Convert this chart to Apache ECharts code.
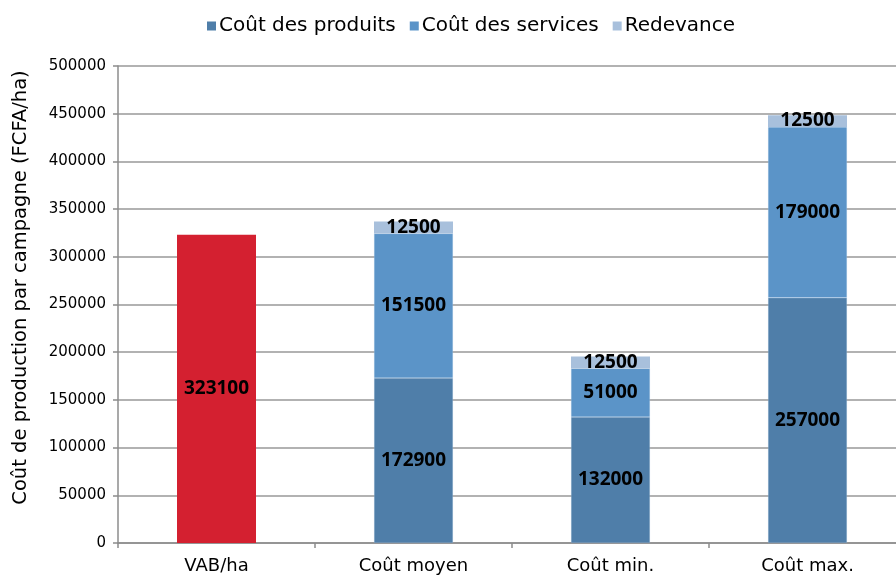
<!DOCTYPE html>
<html>
<head>
<meta charset="utf-8">
<script src="https://cdn.jsdelivr.net/npm/echarts@6/dist/echarts.min.js"></script>
<style>
  html, body { margin: 0; padding: 0; background: #fff; }
  #chart { width: 896px; height: 576px; }
</style>
</head>
<body>
<div id="chart"></div>
<script>
var categories = ["VAB/ha", "Coût moyen", "Coût min.", "Coût max."];
var vab = [323100, "-", "-", "-"];
var coutProduits = ["-", 172900, 132000, 257000];
var coutServices = ["-", 151500, 51000, 179000];
var redevance = ["-", 12500, 12500, 12500];

var font = "DejaVu Sans";
var labelStyle = {
  show: true,
  position: "inside",
  color: "#000",
  fontWeight: "bold",
  fontSize: 19,
  fontFamily: "Open Sans"
};
// fine light seam between stacked segments
var seam = { borderColor: "rgba(190,210,235,0.45)", borderWidth: 0.5 };

var chart = echarts.init(document.getElementById("chart"));
chart.setOption({
  backgroundColor: "#fff",
  animation: false,
  legend: {
    data: ["Coût des produits", "Coût des services", "Redevance"],
    top: 11,
    left: 202,
    itemWidth: 9,
    itemHeight: 9,
    itemGap: 14,
    icon: "rect",
    itemStyle: { borderWidth: 0 },
    textStyle: { fontSize: 20, fontFamily: font, color: "#000", padding: [0, 0, 0, -2] }
  },
  grid: { left: 118, top: 66, width: 788, height: 477, outerBoundsMode: "none", containLabel: false },
  xAxis: {
    type: "category",
    data: categories,
    axisLine: { lineStyle: { color: "#8c8c8c", width: 1.5 } },
    axisTick: { show: true, length: 5, lineStyle: { color: "#8c8c8c", width: 1.5 } },
    axisLabel: { fontSize: 18, fontFamily: font, color: "#000", margin: 14 }
  },
  yAxis: {
    type: "value",
    min: 0,
    max: 500000,
    interval: 50000,
    name: "Coût de production par campagne (FCFA/ha)",
    nameLocation: "middle",
    nameGap: 87,
    nameTextStyle: { fontSize: 19.5, fontFamily: font, color: "#000", padding: [0, 0, 0, 34] },
    axisLine: { show: true, lineStyle: { color: "#8c8c8c", width: 1.5 } },
    axisTick: { show: true, length: 5, lineStyle: { color: "#8c8c8c", width: 1.5 } },
    axisLabel: {
      fontSize: 15,
      fontFamily: font,
      color: "#000",
      margin: 12,
      formatter: function (v) { return String(v); }
    },
    splitLine: { lineStyle: { color: "#999", width: 1.5 } }
  },
  series: [
    {
      name: "VAB",
      type: "bar",
      stack: "total",
      barWidth: 79,
      data: vab,
      itemStyle: { color: "#d42030" },
      label: labelStyle
    },
    {
      name: "Coût des produits",
      type: "bar",
      stack: "total",
      barWidth: 79,
      data: coutProduits,
      itemStyle: Object.assign({ color: "#4f7ea9" }, seam),
      label: labelStyle
    },
    {
      name: "Coût des services",
      type: "bar",
      stack: "total",
      barWidth: 79,
      data: coutServices,
      itemStyle: Object.assign({ color: "#5b94c8" }, seam),
      label: labelStyle
    },
    {
      name: "Redevance",
      type: "bar",
      stack: "total",
      barWidth: 79,
      data: redevance,
      itemStyle: { color: "#a8c0dc" },
      label: labelStyle
    }
  ]
});
</script>
</body>
</html>
